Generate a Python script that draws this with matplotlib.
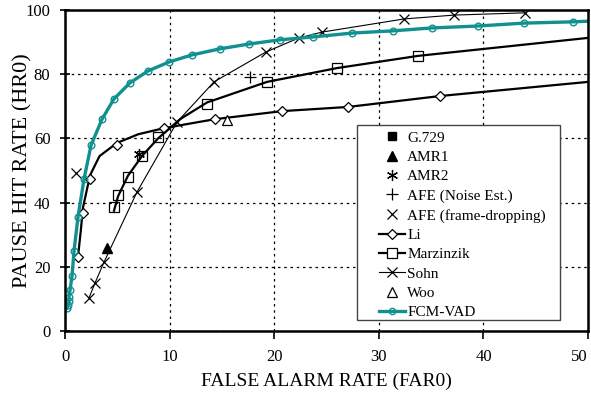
import matplotlib.pyplot as plt
from matplotlib.lines import Line2D
from matplotlib.patches import Rectangle

plt.rcParams['font.family'] = ['Liberation Serif', 'DejaVu Serif']

# FCM-VAD curve (teal, circles)
fcm_far = [0.19, 0.29, 0.38, 0.38, 0.48, 0.67, 0.86, 1.24, 1.82, 2.49, 3.54, 4.68, 6.21, 7.93,
           9.94, 12.14, 14.82, 17.6, 20.55, 23.71, 27.44, 31.36, 35.09, 39.48, 43.88, 48.57, 50.0]
fcm_hr = [7.2, 8.1, 9.3, 10.6, 12.8, 17.1, 24.9, 35.5, 47.4, 57.9, 66.0, 72.3, 77.3, 81.0,
          83.8, 86.0, 87.9, 89.4, 90.7, 91.6, 92.8, 93.5, 94.4, 95.0, 95.9, 96.3, 96.5]
fcm_marked = 26  # last point is only the end of the line

# Li (diamonds) markers + line
li_far = [1.24, 1.72, 2.39, 4.97, 9.46, 14.34, 20.75, 27.06, 35.85]
li_hr = [23.1, 36.8, 47.4, 57.9, 63.2, 66.0, 68.5, 69.8, 73.2]
li_line_far = [1.24, 1.5, 1.72, 2.39, 3.3, 4.97, 7.0, 9.46, 14.34, 20.75, 27.06, 35.85, 50.0]
li_line_hr = [23.1, 31.0, 38.5, 48.5, 54.5, 58.6, 61.3, 63.2, 66.0, 68.5, 69.8, 73.2, 77.6]

# Marzinzik (squares)
mz_far = [4.68, 5.07, 6.02, 7.36, 8.89, 13.58, 19.31, 26.0, 33.75]
mz_hr = [38.6, 42.4, 48.0, 54.5, 60.4, 70.7, 77.6, 81.9, 85.7]
mz_line_far = [4.68, 5.07, 6.02, 7.36, 8.89, 11.0, 13.58, 19.31, 26.0, 33.75, 50.0]
mz_line_hr = [37.5, 42.0, 48.4, 54.5, 60.0, 66.0, 71.2, 77.6, 81.9, 85.7, 91.3]

# Sohn (x, thin line)
sohn_far = [2.29, 2.87, 3.73, 6.88, 10.71, 14.24, 19.2, 22.37, 24.57, 32.41, 37.19, 43.98]
sohn_hr = [10.3, 15.0, 21.5, 43.3, 65.1, 77.6, 86.9, 91.3, 93.1, 97.2, 98.4, 99.1]

# single operating points
g729_far, g729_hr = [], []
amr1_far, amr1_hr = [4.02], [25.9]
amr2_far, amr2_hr = [7.07], [55.1]
afe_ne_far, afe_ne_hr = [17.69], [79.1]
afe_fd_far, afe_fd_hr = [1.05], [49.2]
woo_far, woo_hr = [15.5], [65.7]

teal = '#129090'

fig = plt.figure(figsize=(5.91, 3.98), dpi=100)
ax = fig.add_axes([0.110, 0.168, 0.885, 0.807])

ax.grid(True, color='black', linestyle=(0, (2, 3)), linewidth=0.9)
ax.set_axisbelow(True)

ax.plot(li_line_far, li_line_hr, color='black', lw=1.6)
ax.plot(li_far, li_hr, 'D', mfc='white', mec='black', ms=5.5, mew=0.9)
ax.plot(mz_line_far, mz_line_hr, color='black', lw=1.6)
ax.plot(mz_far, mz_hr, 's', mfc='none', mec='black', ms=7, mew=0.9)
ax.plot(sohn_far, sohn_hr, color='black', lw=0.8, marker='x', ms=7.5, mew=0.9)

ax.plot(g729_far, g729_hr, 's', color='black', ms=6)
ax.plot(amr1_far, amr1_hr, '^', color='black', ms=7)
ax.plot(amr2_far, amr2_hr, marker=(6, 2, 0), ls='none', color='black', ms=8, mew=0.9)
ax.plot(afe_ne_far, afe_ne_hr, '+', color='black', ms=8, mew=0.9)
ax.plot(afe_fd_far, afe_fd_hr, 'x', color='black', ms=7.5, mew=0.9)
ax.plot(woo_far, woo_hr, '^', mfc='white', mec='black', ms=7, mew=0.9)

ax.plot(fcm_far, fcm_hr, color=teal, lw=2.4)
ax.plot(fcm_far[:fcm_marked], fcm_hr[:fcm_marked], 'o', mfc='none', mec=teal, ms=4.8, mew=1.0)

ax.set_xlim(0, 50)
ax.set_ylim(0, 100)
ax.set_xticks([0, 10, 20, 30, 40, 50])
ax.set_yticks([0, 20, 40, 60, 80, 100])
ax.tick_params(axis='y', direction='inout', length=7, width=1.2, labelsize=12, pad=7)
ax.tick_params(axis='x', direction='out', length=6, width=1.2, labelsize=12, pad=7)
ax.get_xticklabels()[-1].set_horizontalalignment('right')
for s in ax.spines.values():
    s.set_linewidth(1.8)

ax.set_xlabel('FALSE ALARM RATE (FAR0)', fontsize=14)
ax.set_ylabel('PAUSE HIT RATE (HR0)', fontsize=16)
ax.xaxis.set_label_coords(0.5, -0.128)
ax.yaxis.set_label_coords(-0.063, 0.5)

handles = [
    Line2D([], [], ls='none', marker='s', color='black', ms=6),
    Line2D([], [], ls='none', marker='^', color='black', ms=7),
    Line2D([], [], ls='none', marker=(6, 2, 0), color='black', ms=8, mew=0.9),
    Line2D([], [], ls='none', marker='+', color='black', ms=8, mew=0.9),
    Line2D([], [], ls='none', marker='x', color='black', ms=7, mew=0.9),
    Line2D([], [], color='black', lw=1.6, marker='D', mfc='white', mec='black', ms=5.5, mew=0.9),
    Line2D([], [], color='black', lw=1.6, marker='s', mfc='white', mec='black', ms=7, mew=0.9),
    Line2D([], [], color='black', lw=0.8, marker='x', ms=7, mew=0.9),
    Line2D([], [], ls='none', marker='^', mfc='white', mec='black', ms=7, mew=0.9),
    Line2D([], [], color=teal, lw=2.4, marker='o', mfc='none', mec=teal, ms=4.5, mew=1.0),
]
labels = ['G.729', 'AMR1', 'AMR2', 'AFE (Noise Est.)', 'AFE (frame-dropping)',
          'Li', 'Marzinzik', 'Sohn', 'Woo', 'FCM-VAD']

# legend box drawn separately so its padding matches the original
box = Rectangle((0.604, 0.196), 0.3435, 0.490, transform=fig.transFigure,
                facecolor='white', edgecolor='#444444', lw=1.0, zorder=4, clip_on=False)
ax.add_patch(box)
leg = ax.legend(handles, labels, loc='upper left', bbox_to_anchor=(0.600, 0.623),
                borderaxespad=0, borderpad=0, fontsize=11, labelspacing=0.37,
                handlelength=1.7, handletextpad=0.15, frameon=False)
leg.set_zorder(5)

fig.savefig('out.png', dpi=100)
